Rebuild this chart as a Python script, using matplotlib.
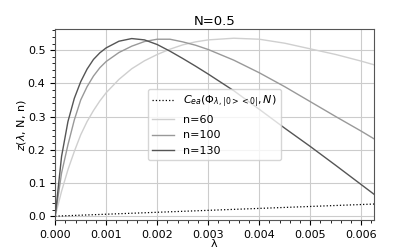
import matplotlib
matplotlib.use('Agg')
import matplotlib.pyplot as plt

# lambda sample points
lam = [0, 0.000125, 0.00025, 0.000375, 0.0005, 0.000625, 0.00075, 0.000875, 0.001,
       0.00125, 0.0015, 0.00175, 0.002, 0.00225, 0.0025, 0.00275, 0.003,
       0.0035, 0.004, 0.0045, 0.005, 0.0055, 0.006, 0.00625]

z_n60 = [0, 0.075, 0.14, 0.195, 0.245, 0.285, 0.318, 0.347, 0.372,
         0.412, 0.444, 0.468, 0.487, 0.503, 0.516, 0.525, 0.531,
         0.536, 0.533, 0.521, 0.504, 0.487, 0.467, 0.456]
z_n100 = [0, 0.13, 0.215, 0.29, 0.35, 0.39, 0.422, 0.447, 0.466,
          0.493, 0.512, 0.526, 0.533, 0.533, 0.525, 0.515, 0.502,
          0.470, 0.432, 0.390, 0.345, 0.300, 0.256, 0.233]
z_n130 = [0, 0.18, 0.285, 0.355, 0.405, 0.443, 0.472, 0.492, 0.507,
          0.527, 0.535, 0.531, 0.517, 0.497, 0.475, 0.452, 0.428,
          0.378, 0.322, 0.265, 0.210, 0.153, 0.095, 0.066]

lam_cea = [0, 0.00625]
z_cea = [0, 0.0365]

labels = [r'$C_{ea}(\Phi_{\lambda,|0><0|}, N)$', 'n=60', 'n=100', 'n=130']

fig = plt.figure(figsize=(4.15, 2.48), dpi=100)
ax = fig.add_axes([0.133, 0.111, 0.767, 0.771])

ax.plot(lam_cea, z_cea, linestyle=':', color='black', linewidth=0.9, label=labels[0])
ax.plot(lam, z_n60, color='#cfcfcf', linewidth=1.0, label=labels[1])
ax.plot(lam, z_n100, color='#999999', linewidth=1.0, label=labels[2])
ax.plot(lam, z_n130, color='#555555', linewidth=1.0, label=labels[3])

ax.set_xlim(0, 0.00624)
ax.set_ylim(-0.013, 0.563)
ax.set_xticks([0, 0.001, 0.002, 0.003, 0.004, 0.005, 0.006])
ax.set_yticks([0.0, 0.1, 0.2, 0.3, 0.4, 0.5])
ax.minorticks_on()
ax.grid(which='major', color='#cccccc', linewidth=0.8)
ax.tick_params(labelsize=8)
for s in ax.spines.values():
    s.set_color('#555555')

ax.set_title('N=0.5', fontsize=9.5, pad=3)
ax.set_xlabel('λ', fontsize=8, labelpad=-1)
ax.set_ylabel(r'$z(\lambda$, N, n)', fontsize=8, labelpad=0)
ax.legend(loc='center', fontsize=8)

fig.savefig('out.png', dpi=100)
